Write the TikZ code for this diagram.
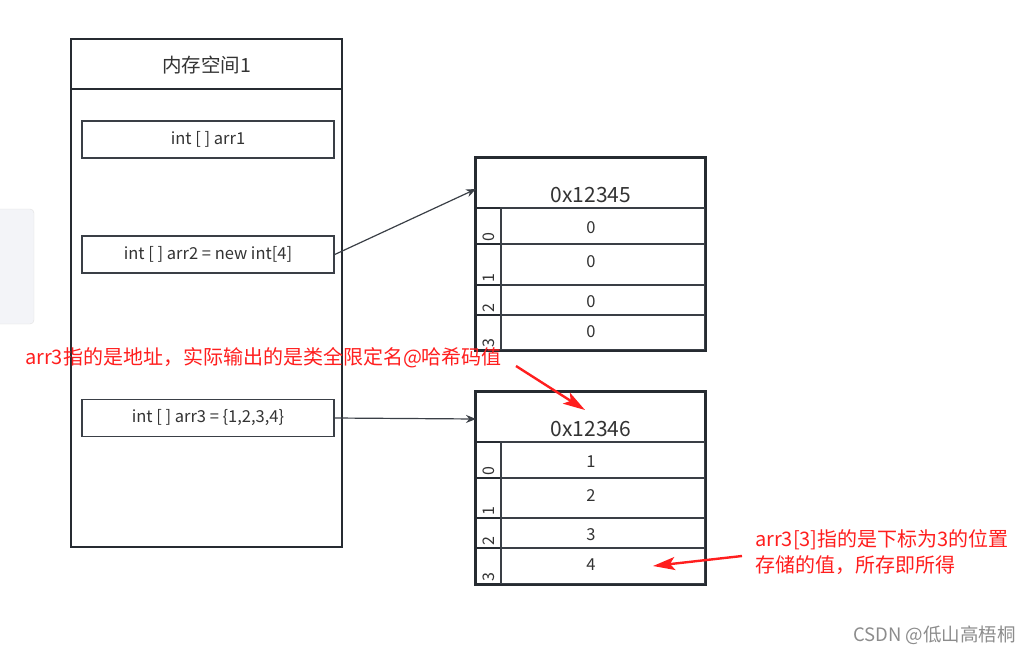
\documentclass[tikz,border=0pt]{standalone}
\usepackage{fontspec}
\setmainfont{Noto Sans CJK SC}
\usetikzlibrary{arrows.meta,positioning,calc}
\definecolor{frame}{HTML}{262B31}
\definecolor{cellline}{HTML}{3A3F46}
\definecolor{note}{HTML}{FF1E1E}
\definecolor{side}{HTML}{F3F4F8}

\begin{document}
\begin{tikzpicture}[x=1pt,y=-1pt,
  every node/.style={font=\fontsize{16.5}{18}\selectfont, text=black!80, inner sep=0pt},
  frame/.style={draw=frame, line width=2pt},
  varbox/.style={draw=cellline, line width=1.5pt, minimum width=252pt, minimum height=37pt},
  head/.style={draw=frame, line width=2pt, minimum width=229pt, minimum height=50pt},
  valcell/.style={draw=cellline, line width=1.5pt, minimum width=204pt},
  idxcell/.style={draw=frame, line width=2pt, minimum width=25pt},
  val/.style={font=\fontsize{16.5}{16.5}\selectfont},
  idx/.style={rotate=90, anchor=west, font=\fontsize{16}{16}\selectfont},
  ptr/.style={-{Stealth[length=10pt,width=8pt]}, draw=cellline, line width=1.2pt},
  hint/.style={-{Stealth[length=22pt,width=13pt,inset=5pt]}, draw=note, line width=2.4pt},
  remark/.style={text=note, font=\fontsize{20}{26}\selectfont, align=left},
]
\useasboundingbox (0,0) rectangle (1031,654);

% side tab at the left edge
\node[draw=black!12, fill=side, rounded corners=4pt, minimum width=44pt, minimum height=115pt] (tab) at (12,266.5) {};

% memory space
\node[frame, minimum width=271pt, minimum height=508pt] (mem) at (206.5,293) {};
\node[frame, minimum width=271pt, minimum height=50pt]  (memhd) at (206.5,64) {};
\node[font=\fontsize{19.5}{19.5}\selectfont] (memtxt) at (206.5,65) {内存空间1};
\node[varbox] (arr1) at (208,139.5) {int [ ] arr1};
\node[varbox] (arr2) at (208,254.5) {int [ ] arr2 = new int[4]};
\node[varbox] (arr3) at (208,418)   {int [ ] arr3 = \{1,2,3,4\}};

% first array
\node[head] (hd1) at (590.5,183) {};
\node[font=\fontsize{21}{21}\selectfont] (hd1txt) at (591,195) {0x12345};
\node[idxcell, minimum height=36pt] (i10) at (488.5,226)   {};
\node[idxcell, minimum height=41pt] (i11) at (488.5,264.5) {};
\node[idxcell, minimum height=30pt] (i12) at (488.5,300)   {};
\node[idxcell, minimum height=35pt] (i13) at (488.5,332.5) {};
\node[valcell, minimum height=36pt] (v10) at (603,226)   {};
\node[valcell, minimum height=41pt] (v11) at (603,264.5) {};
\node[valcell, minimum height=30pt] (v12) at (603,300)   {};
\node[valcell, minimum height=35pt] (v13) at (603,332.5) {};
\node[val] (t10) at (591,228) {0};
\node[val] (t11) at (591,262) {0};
\node[val] (t12) at (591,302) {0};
\node[val] (t13) at (591,332) {0};
\node[idx] (n10) at ([yshift=3pt]i10.south) {0};
\node[idx] (n11) at ([yshift=3pt]i11.south) {1};
\node[idx] (n12) at ([yshift=3pt]i12.south) {2};
\node[idx] (n13) at ([yshift=3pt]i13.south) {3};
\draw[frame] (hd1.north west) rectangle (v13.south east);

% second array
\node[head] (hd2) at (590.5,417) {};
\node[font=\fontsize{21}{21}\selectfont] (hd2txt) at (591,429) {0x12346};
\node[idxcell, minimum height=36pt] (i20) at (488.5,460) {};
\node[idxcell, minimum height=40pt] (i21) at (488.5,498) {};
\node[idxcell, minimum height=30pt] (i22) at (488.5,533) {};
\node[idxcell, minimum height=36pt] (i23) at (488.5,566) {};
\node[valcell, minimum height=36pt] (v20) at (603,460) {};
\node[valcell, minimum height=40pt] (v21) at (603,498) {};
\node[valcell, minimum height=30pt] (v22) at (603,533) {};
\node[valcell, minimum height=36pt] (v23) at (603,566) {};
\node[val] (t20) at (591,462) {1};
\node[val] (t21) at (591,496) {2};
\node[val] (t22) at (591,535) {3};
\node[val] (t23) at (591,565) {4};
\node[idx] (n20) at ([yshift=3pt]i20.south) {0};
\node[idx] (n21) at ([yshift=3pt]i21.south) {1};
\node[idx] (n22) at ([yshift=3pt]i22.south) {2};
\node[idx] (n23) at ([yshift=3pt]i23.south) {3};
\draw[frame] (hd2.north west) rectangle (v23.south east);

% references
\coordinate (in1) at (476,189);
\coordinate (in2) at (476,419);
\draw[ptr] (arr2.east) -- (in1);
\draw[ptr] (arr3.east) -- (in2);

% notes
\node[remark, anchor=west] (note1) at (25,358) {arr3指的是地址，实际输出的是类全限定名@哈希码值};
\node[remark, anchor=north west] (note2) at (755,529) {arr3[3]指的是下标为3的位置\\存储的值，所存即所得};
\coordinate (from1) at (516,366);
\coordinate (to1) at (585,410);
\coordinate (from2) at (742,556);
\coordinate (to2) at (653,566);
\draw[hint] (from1) -- (to1);
\draw[hint] (from2) -- (to2);

\node[text=black!45, font=\fontsize{18.5}{18.5}\selectfont, anchor=east] (mark) at (1016,635) {CSDN @低山高梧桐};
\end{tikzpicture}
\end{document}
